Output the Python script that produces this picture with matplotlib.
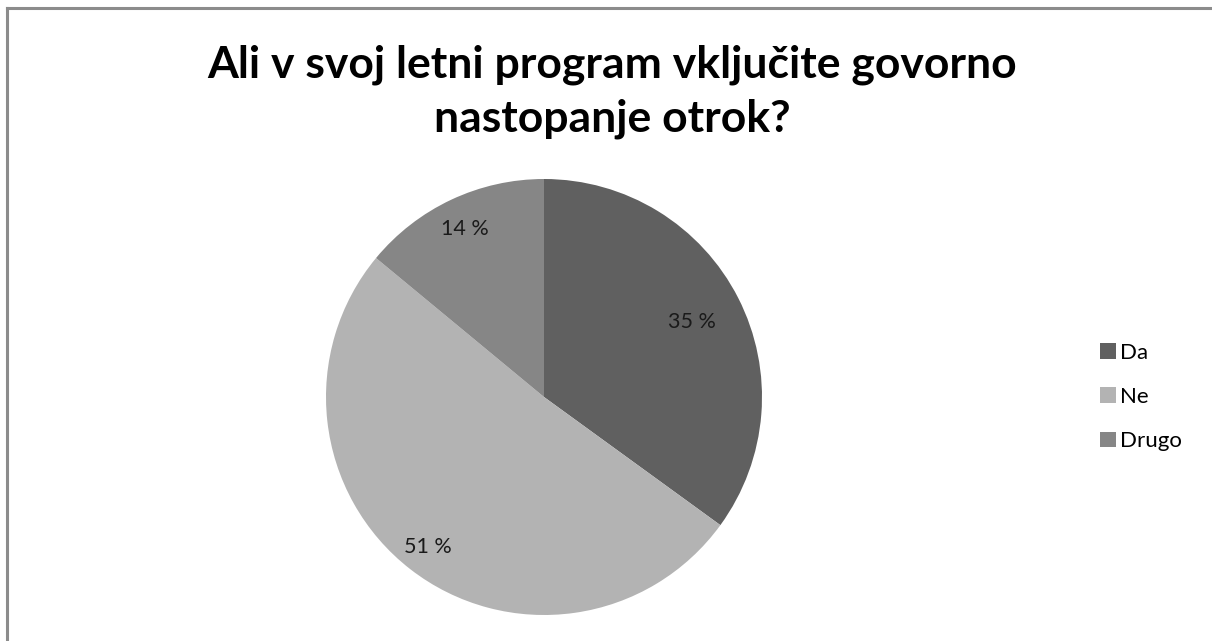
import matplotlib
matplotlib.use('Agg')
import matplotlib.pyplot as plt
from matplotlib.patches import Patch
from matplotlib.lines import Line2D
import numpy as np

# Podatki
kategorije = ['Da', 'Ne', 'Drugo']
odstotki = [35, 51, 14]
oznake = ['35 %', '51 %', '14 %']
barve = ['#606060', '#b3b3b3', '#868686']
razdalje = [0.76, 0.87, 0.85]

plt.rcParams['font.family'] = ['Lato', 'DejaVu Sans']

W, H = 1212, 641
fig = plt.figure(figsize=(W / 100, H / 100), dpi=100)

# Okvir (zgoraj in levo)
fig.add_artist(Line2D([7 / W, 1], [1 - 8 / H, 1 - 8 / H], color='#8c8c8c', lw=2.2))
fig.add_artist(Line2D([7 / W, 7 / W], [0, 1 - 8 / H], color='#8c8c8c', lw=2.2))

cx, cy, r = 544, 397, 218
ax = fig.add_axes([(cx - r) / W, (H - cy - r) / H, 2 * r / W, 2 * r / H])
wedges, _ = ax.pie(odstotki, colors=barve, startangle=90, counterclock=False,
                   radius=1, wedgeprops=dict(linewidth=0))
ax.set_xlim(-1, 1)
ax.set_ylim(-1, 1)
ax.set_aspect('equal')

for w, lab, d in zip(wedges, oznake, razdalje):
    kot = np.deg2rad((w.theta1 + w.theta2) / 2)
    ax.text(d * np.cos(kot), d * np.sin(kot), lab, ha='center', va='center',
            fontsize=15.5, color='#1a1a1a')

fig.text(612 / W, 1 - 92 / H, 'Ali v svoj letni program vključite govorno\nnastopanje otrok?',
         ha='center', va='center', fontsize=32, fontweight='bold',
         linespacing=1.42, color='black')

handles = [Patch(facecolor=c, edgecolor='none') for c in barve]
fig.legend(handles, kategorije, loc='center left', bbox_to_anchor=(1080 / W, 1 - 397 / H),
           frameon=False, fontsize=16, handlelength=0.7, handleheight=0.7,
           handletextpad=0.2, labelspacing=1.1)

fig.savefig('out.png', dpi=100)
